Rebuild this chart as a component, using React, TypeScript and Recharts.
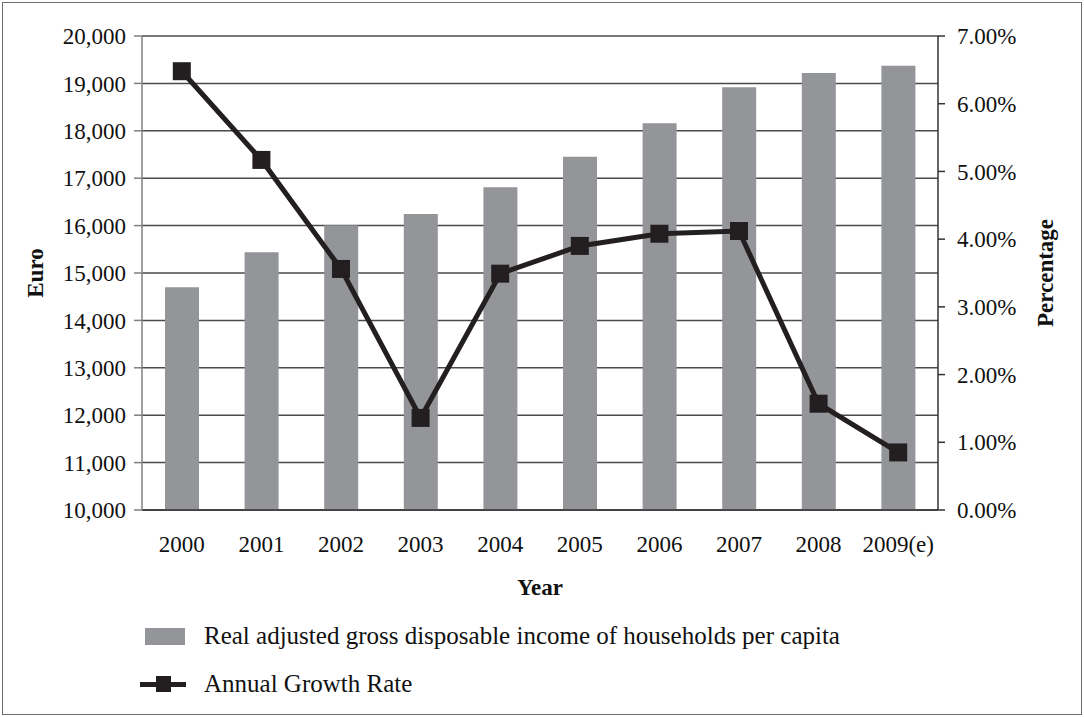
import React from 'react';
import { ComposedChart, Bar, Line, XAxis, YAxis, CartesianGrid, Legend } from 'recharts';

const years = ['2000', '2001', '2002', '2003', '2004', '2005', '2006', '2007', '2008', '2009(e)'];
const income = [14700, 15440, 16010, 16245, 16810, 17450, 18160, 18920, 19220, 19370];
const growthRate = [6.48, 5.17, 3.56, 1.36, 3.49, 3.9, 4.08, 4.12, 1.57, 0.85];

const euroTicks = [10000, 11000, 12000, 13000, 14000, 15000, 16000, 17000, 18000, 19000, 20000];
const percentTicks = [0, 1, 2, 3, 4, 5, 6, 7];
// tick marks between the year categories
const boundaryTicks = [0, 1, 2, 3, 4, 5, 6, 7, 8, 9, 10];

const data = years.map((year, i) => ({ year, income: income[i], growth: growthRate[i] }));

const FONT = '"Liberation Serif", "Times New Roman", serif';
const BAR_COLOR = '#939598';
const LINE_COLOR = '#231f20';

const SquareDot = (props: any) => {
  const { cx, cy } = props;
  if (cx == null || cy == null) return null;
  return <rect x={cx - 9} y={cy - 9} width={18} height={18} fill={LINE_COLOR} />;
};

const rotatedTitle = (text: string, dx: number) => (props: any) => {
  const vb = props.viewBox;
  const x = vb.x + vb.width / 2 + dx;
  const y = vb.y + vb.height / 2;
  return (
    <text
      x={x}
      y={y}
      transform={`rotate(-90 ${x} ${y})`}
      textAnchor="middle"
      dominantBaseline="central"
      fontFamily={FONT}
      fontSize={23}
      fontWeight="bold"
      fill="#111"
    >
      {text}
    </text>
  );
};

const yearTitle = (props: any) => {
  const vb = props.viewBox;
  return (
    <text
      x={vb.x + vb.width / 2}
      y={vb.y + 77}
      textAnchor="middle"
      dominantBaseline="central"
      fontFamily={FONT}
      fontSize={23}
      fontWeight="bold"
      fill="#111"
    >
      Year
    </text>
  );
};

const renderLegend = () => (
  <div style={{ fontFamily: FONT, fontSize: 25, color: '#111' }}>
    <div style={{ display: 'flex', alignItems: 'center', height: 40 }}>
      <div style={{ width: 40, height: 17, background: BAR_COLOR, marginLeft: 5, marginRight: 19 }} />
      <span>Real adjusted gross disposable income of households per capita</span>
    </div>
    <div style={{ display: 'flex', alignItems: 'center', height: 46, marginTop: 5 }}>
      <div style={{ position: 'relative', width: 46, height: 16, marginRight: 18 }}>
        <div style={{ position: 'absolute', left: 0, top: 6, width: 46, height: 5, background: LINE_COLOR }} />
        <div style={{ position: 'absolute', left: 16, top: 0, width: 15, height: 16, background: LINE_COLOR }} />
      </div>
      <span>Annual Growth Rate</span>
    </div>
  </div>
);

const App: React.FC = () => {
  return (
    <div style={{ position: 'absolute', left: 0, top: 0, width: 1084, height: 717, background: '#fff' }}>
      <div
        style={{
          position: 'absolute',
          left: 2,
          top: 2,
          width: 1078,
          height: 711,
          border: '1.5px solid #6d6d6d',
          pointerEvents: 'none',
        }}
      />
      <ComposedChart width={1084} height={717} data={data} margin={{ top: 36, right: 0, bottom: 0, left: 0 }}>
        <CartesianGrid xAxisId="cat" yAxisId="euro" vertical={false} stroke="#4a4a4a" strokeWidth={1.5} />
        <XAxis
          xAxisId="edges"
          type="number"
          domain={[0, 10]}
          ticks={boundaryTicks}
          allowDataOverflow
          orientation="bottom"
          height={0}
          axisLine={false}
          tickLine={{ stroke: '#333', strokeWidth: 1.5 }}
          tickSize={7}
          tickFormatter={() => ''}
        />
        <XAxis
          xAxisId="cat"
          dataKey="year"
          height={207}
          tickLine={false}
          axisLine={{ stroke: '#333', strokeWidth: 1.5 }}
          tick={{ fontFamily: FONT, fontSize: 23, fill: '#111' }}
          tickMargin={20}
          interval={0}
          label={{ content: yearTitle }}
        />
        <YAxis
          yAxisId="euro"
          domain={[10000, 20000]}
          ticks={euroTicks}
          width={142}
          allowDataOverflow
          tickSize={8}
          tickMargin={8}
          axisLine={{ stroke: '#808080', strokeWidth: 1.5 }}
          tickLine={{ stroke: '#808080', strokeWidth: 1.5 }}
          tick={{ fontFamily: FONT, fontSize: 23, fill: '#111' }}
          tickFormatter={(v: number) => v.toLocaleString('en-US')}
          label={{ content: rotatedTitle('Euro', -36) }}
        />
        <YAxis
          yAxisId="pct"
          orientation="right"
          domain={[0, 7]}
          ticks={percentTicks}
          width={146}
          tickSize={7}
          tickMargin={12}
          axisLine={{ stroke: '#333', strokeWidth: 1.5 }}
          tickLine={{ stroke: '#333', strokeWidth: 1.5 }}
          tick={{ fontFamily: FONT, fontSize: 23, fill: '#111', textAnchor: 'start' }}
          tickFormatter={(v: number) => `${v.toFixed(2)}%`}
          label={{ content: rotatedTitle('Percentage', 34) }}
        />
        <Legend
          content={renderLegend}
          layout="horizontal"
          verticalAlign="middle"
          align="center"
          wrapperStyle={{ top: 616, left: 140, width: 800 }}
        />
        <Bar
          xAxisId="cat"
          yAxisId="euro"
          dataKey="income"
          name="Real adjusted gross disposable income of households per capita"
          fill={BAR_COLOR}
          barSize={34}
          isAnimationActive={false}
        />
        <Line
          xAxisId="cat"
          yAxisId="pct"
          dataKey="growth"
          name="Annual Growth Rate"
          type="linear"
          stroke={LINE_COLOR}
          strokeWidth={5}
          dot={<SquareDot />}
          activeDot={false}
          isAnimationActive={false}
        />
      </ComposedChart>
    </div>
  );
};

export default App;
